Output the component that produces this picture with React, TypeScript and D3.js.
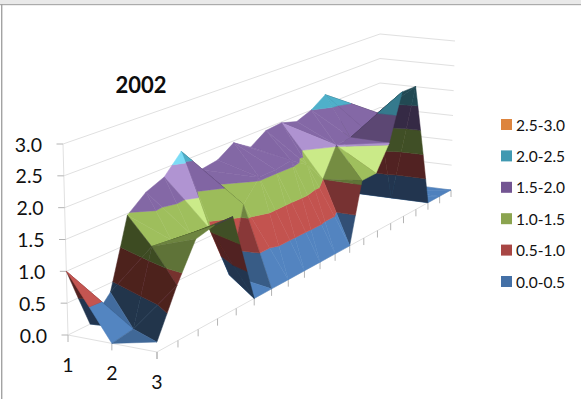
import React from "react";
import * as d3 from "d3";

const width = 581;
const height = 399;

const title = "2002";
const rowLabels = ["1", "2", "3"];
const valueTicks = [0, 0.5, 1, 1.5, 2, 2.5, 3];
const bandEdges = [0, 0.5, 1, 1.5, 2, 2.5, 3];
const legendLabels = ["0.0-0.5", "0.5-1.0", "1.0-1.5", "1.5-2.0", "2.0-2.5", "2.5-3.0"];
const legendColors = ["#4470a6", "#a84644", "#8ba44f", "#735592", "#4099b1", "#dd843d"];
const surfaceColors = ["#4f81bd", "#c0504d", "#9bbb59", "#8064a2", "#4bacc6", "#f79646"];

// Heights, one row per category, 20 depth positions.
const row1 = [1.0, 0, 0.35, 1.47, 1.72, 1.85, 2.17, 1.72, 1.77, 1.96, 1.76, 1.95, 1.98, 1.89, 2.0, 2.19, 1.6, 0, 0, 0];
const row2 = [0, 0.05, 1.2, 1.16, 1.12, 1.08, 0.12, 1.2, 1.55, 1.56, 1.6, 1.4, 1.0, 1.52, 1.55, 1.6, 1.8, 0, 0, 0];
const row3 = [0.15, 0.85, 1.42, 1.5, 1.5, 0, 0, 0, 0, 0, 0, 0, 1.07, 1.08, 1.53, 2.4, 2.4, 0, 0, 0];
const rows = [row1, row2, row3];
// Which way each grid cell is split in two triangles.
const splits1 = "A B B B B B A A B A B B A B B A B A A".split(" ");
const splits2 = "B B A B B B B B B B B B B A A B B A A".split(" ");
const splits = [splits1, splits2];
// Facets catching the light: row-depth-triangle.
const glints = ["0-5-0", "0-12-0", "1-13-0"];

type V = [number, number, number];
type P = [number, number];

const uScale = d3.scaleLinear().domain([0, rowLabels.length - 1]).range([0, 1]);
const vScale = d3.scaleLinear().domain([0, row1.length - 1]).range([0, 1]);
const wScale = d3.scaleLinear().domain([0, 3]).range([0, 1]);

function quadMap(q: P[]) {
  const [p0, p1, p2, p3] = q;
  const dx1 = p1[0] - p2[0], dx2 = p3[0] - p2[0], dx3 = p0[0] - p1[0] + p2[0] - p3[0];
  const dy1 = p1[1] - p2[1], dy2 = p3[1] - p2[1], dy3 = p0[1] - p1[1] + p2[1] - p3[1];
  const den = dx1 * dy2 - dx2 * dy1;
  const g = (dx3 * dy2 - dx2 * dy3) / den;
  const h = (dx1 * dy3 - dx3 * dy1) / den;
  const a = p1[0] - p0[0] + g * p1[0], b = p3[0] - p0[0] + h * p3[0];
  const d = p1[1] - p0[1] + g * p1[1], e = p3[1] - p0[1] + h * p3[1];
  return (u: number, v: number): P => {
    const w = g * u + h * v + 1;
    return [(a * u + b * v + p0[0]) / w, (d * u + e * v + p0[1]) / w];
  };
}

const floorMap = quadMap([[68, 335], [157, 352], [451, 190], [380, 181]]);
const roofMap = quadMap([[63, 144], [155, 153], [455, 41], [380, 34]]);

function project([i, j, z]: V): P {
  const u = uScale(i), v = vScale(j), w = wScale(z);
  const a = floorMap(u, v), b = roofMap(u, v);
  return [a[0] + (b[0] - a[0]) * w, a[1] + (b[1] - a[1]) * w];
}

function clipAbove(poly: V[], level: number, keepAbove: boolean): V[] {
  const out: V[] = [];
  const inside = (p: V) => (keepAbove ? p[2] >= level : p[2] <= level);
  poly.forEach((p, k) => {
    const q = poly[(k + 1) % poly.length];
    if (inside(p)) out.push(p);
    if (inside(p) !== inside(q)) {
      const t = (level - p[2]) / (q[2] - p[2]);
      out.push([p[0] + (q[0] - p[0]) * t, p[1] + (q[1] - p[1]) * t, level]);
    }
  });
  return out;
}

const area = (a: P, b: P, c: P) => (b[0] - a[0]) * (c[1] - a[1]) - (b[1] - a[1]) * (c[0] - a[0]);

function shadeFor(t: V[], glint: boolean): number {
  const [a, b, c] = t;
  const ux = b[0] - a[0], uy = b[1] - a[1], uz = b[2] - a[2];
  const vx = c[0] - a[0], vy = c[1] - a[1], vz = c[2] - a[2];
  const det = ux * vy - uy * vx;
  const gi = (uz * vy - uy * vz) / det;
  const gj = (ux * vz - uz * vx) / det;
  const n = [-2 * gi, -2 * gj, 1];
  const len = Math.hypot(n[0], n[1], n[2]);
  const diffuse = (n[0] * 0.7 + n[2] * 0.7) / len;
  const top = area(project(a), project(b), project(c)) * area(project([a[0], a[1], 0]), project([b[0], b[1], 0]), project([c[0], c[1], 0])) > 0;
  if (!top) return 0.42;
  const base = diffuse < 0.7 ? 0.4 + 0.857 * Math.max(diffuse, 0) : 1 + (diffuse - 0.7) * 0.1;
  return base + (glint ? 0.3 : 0);
}

function tint(hex: string, f: number): string {
  const c = d3.rgb(hex);
  const m = (x: number) => (f <= 1 ? x * f : Math.min(x + 150 * (f - 1), 255));
  return d3.rgb(m(c.r), m(c.g), m(c.b)).formatHex();
}

function buildTriangles() {
  const tris: { t: V[]; key: number; glint: boolean }[] = [];
  const V3 = (i: number, j: number): V => [i, j, rows[i][j]];
  splits.forEach((line, i) => {
    line.forEach((s, j) => {
      const pair: V[][] =
        s === "A"
          ? [[V3(i, j), V3(i + 1, j), V3(i + 1, j + 1)], [V3(i, j), V3(i + 1, j + 1), V3(i, j + 1)]]
          : [[V3(i, j), V3(i + 1, j), V3(i, j + 1)], [V3(i + 1, j), V3(i + 1, j + 1), V3(i, j + 1)]];
      pair.forEach((t, k) => {
        const ci = d3.mean(t, (p) => p[0])!;
        const cj = d3.mean(t, (p) => p[1])!;
        tris.push({ t, key: project([ci, cj, 0])[1], glint: glints.includes(`${i}-${j}-${k}`) });
      });
    });
  });
  return tris.sort((a, b) => a.key - b.key);
}

const polyLine = d3.line<P>().x((d) => d[0]).y((d) => d[1]);

export default function App() {
  const tris = buildTriangles();
  const facets: { d: string; fill: string }[] = [];
  tris.forEach(({ t, glint }) => {
    const f = shadeFor(t, glint);
    surfaceColors.forEach((color, b) => {
      let poly = clipAbove(t, bandEdges[b], true);
      if (poly.length) poly = clipAbove(poly, bandEdges[b + 1], false);
      if (poly.length < 3) return;
      facets.push({ d: polyLine(poly.map(project))! + "Z", fill: tint(color, f) });
    });
  });

  const lastJ = row1.length - 1;
  const lastI = rowLabels.length - 1;
  const fontFamily = "Lato, Carlito, sans-serif";
  const grid = "#e0e0e0";
  const tickColor = "#b4b4b4";
  const line = (a: V, b: V) => polyLine([project(a), project(b)])!;

  return (
    <svg
      width={width}
      height={height}
      viewBox={`0 0 ${width} ${height}`}
      style={{ position: "absolute", left: 0, top: 0, background: "#fff" }}
    >
      <defs>
        <filter id="soft" x="-5%" y="-5%" width="110%" height="110%">
          <feGaussianBlur stdDeviation="0.45" />
        </filter>
      </defs>
      <rect x={0} y={0} width={width} height={4} fill="#e9e9e9" />
      <rect x={0} y={4} width={width} height={1.2} fill="#ababab" />
      <rect x={1} y={4} width={1.4} height={height - 4} fill="#a3a3a3" />

      {valueTicks.map((z) => (
        <g key={z} fill="none" stroke={grid} strokeWidth={1}>
          <path d={line([0, 0, z], [0, lastJ, z])} />
          <path d={line([0, lastJ, z], [lastI, lastJ, z])} />
        </g>
      ))}
      <path d={line([0, 0, 0], [0, 0, 3])} stroke={grid} fill="none" />
      <path d={line([0, 0, 0], [lastI, 0, 0])} stroke={grid} fill="none" />
      <path d={line([lastI, 0, 0], [lastI, lastJ, 0])} stroke={grid} fill="none" />

      {valueTicks.map((z) => {
        const [x, y] = project([0, 0, z]);
        return <path key={z} d={`M${x - 6.5},${y}H${x}`} stroke={tickColor} fill="none" />;
      })}
      {rowLabels.map((_, i) => {
        const [x, y] = project([i, 0, 0]);
        return <path key={i} d={`M${x},${y}V${y + 7}`} stroke={tickColor} fill="none" />;
      })}
      {row1.map((_, j) => {
        const [x, y] = project([lastI, j, 0]);
        return <path key={j} d={`M${x},${y}V${y + 7}`} stroke={tickColor} fill="none" />;
      })}

      <g filter="url(#soft)">
        {facets.map((f, k) => (
          <path key={k} d={f.d} fill={f.fill} stroke={f.fill} strokeWidth={0.5} strokeLinejoin="round" />
        ))}
      </g>

      <text x={141} y={84} textAnchor="middle" dominantBaseline="central" fontFamily={fontFamily} fontWeight={700} fontSize={22} fill="#0d0d0d">
        {title}
      </text>
      {valueTicks.map((z) => {
        const [x, y] = project([0, 0, z]);
        return (
          <text key={z} x={x - 21} y={y} textAnchor="end" dominantBaseline="central" fontFamily={fontFamily} fontSize={19.5} fill="#111">
            {z.toFixed(1)}
          </text>
        );
      })}
      {rowLabels.map((label, i) => {
        const [x, y] = project([i, 0, 0]);
        return (
          <text key={label} x={x} y={y + 29} textAnchor="middle" dominantBaseline="central" fontFamily={fontFamily} fontSize={19.5} fill="#111">
            {label}
          </text>
        );
      })}
      {legendLabels.map((label, k) => {
        const y = 276 - k * 31.4;
        return (
          <g key={label}>
            <rect x={501} y={y} width={11} height={11} fill={legendColors[k]} />
            <text x={516} y={y + 5.5} dominantBaseline="central" fontFamily={fontFamily} fontSize={15.5} fill="#111">
              {label}
            </text>
          </g>
        );
      })}
    </svg>
  );
}
